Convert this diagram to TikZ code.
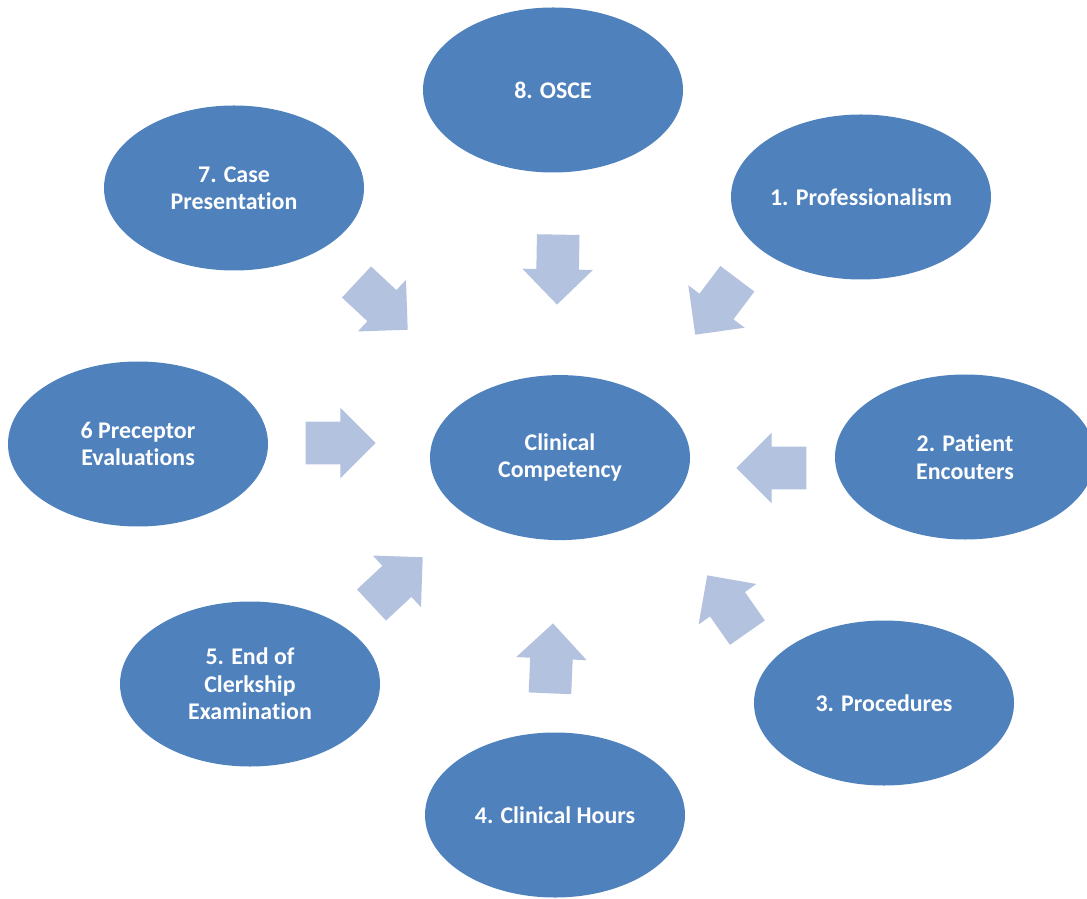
\documentclass[tikz,border=0pt]{standalone}
\usepackage{fontspec}
\setmainfont{Carlito}[Ligatures=NoCommon]
\usetikzlibrary{shapes.geometric,shapes.arrows}

\definecolor{ovalblue}{RGB}{79,129,189}
\definecolor{arrowblue}{RGB}{179,194,222}

\begin{document}
\begin{tikzpicture}[
		oval/.style={ellipse, fill=ovalblue, text=white, inner sep=0pt,
			minimum width=6.5cm, minimum height=4.125cm, align=center,
			font=\fontsize{17}{19.5}\selectfont\bfseries},
		blockarrow/.style={single arrow, fill=arrowblue, anchor=tip,
			inner xsep=0pt, inner ysep=0.525cm,
			minimum height=1.75cm, single arrow head extend=0.35cm}]
			\useasboundingbox (0, 0) rectangle (27.175, 22.45);

			% ovals
			\node [oval] (comp) at (14.0, 11.01) {Clinical\\Competency};
			\node [oval] (osce) at (13.825, 20.2) {8. OSCE};
			\node [oval] (case) at (5.85, 17.75) {7. Case\\Presentation};
			\node [oval] (prof) at (21.525, 17.525) {1. Professionalism};
			\node [oval] (precep) at (3.45, 11.35) {6 Preceptor\\Evaluations};
			\node [oval] (patient) at (24.125, 11.025) {2. Patient\\Encouters};
			\node [oval] (clerk) at (6.25, 5.35) {5. End of\\Clerkship\\Examination};
			\node [oval] (proc) at (22.1, 4.875) {3. Procedures};
			\node [oval] (hours) at (13.875, 2.075) {4. Clinical Hours};

			% arrows into the middle, placed by their tips
			\node [blockarrow, rotate=-91] (to8) at (13.925, 14.825) {};
			\node [blockarrow, rotate=-43] (to7) at (10.2, 14.2) {};
			\node [blockarrow, rotate=-127] (to1) at (17.375, 14.075) {};
			\node [blockarrow, rotate=0] (to6) at (9.4, 11.375) {};
			\node [blockarrow, rotate=180] (to2) at (18.4, 10.75) {};
			\node [blockarrow, rotate=43] (to5) at (10.575, 8.525) {};
			\node [blockarrow, rotate=87.5] (to4) at (13.825, 6.875) {};
			\node [blockarrow, rotate=125] (to3) at (17.675, 8.075) {};
		\end{tikzpicture}
\end{document}
